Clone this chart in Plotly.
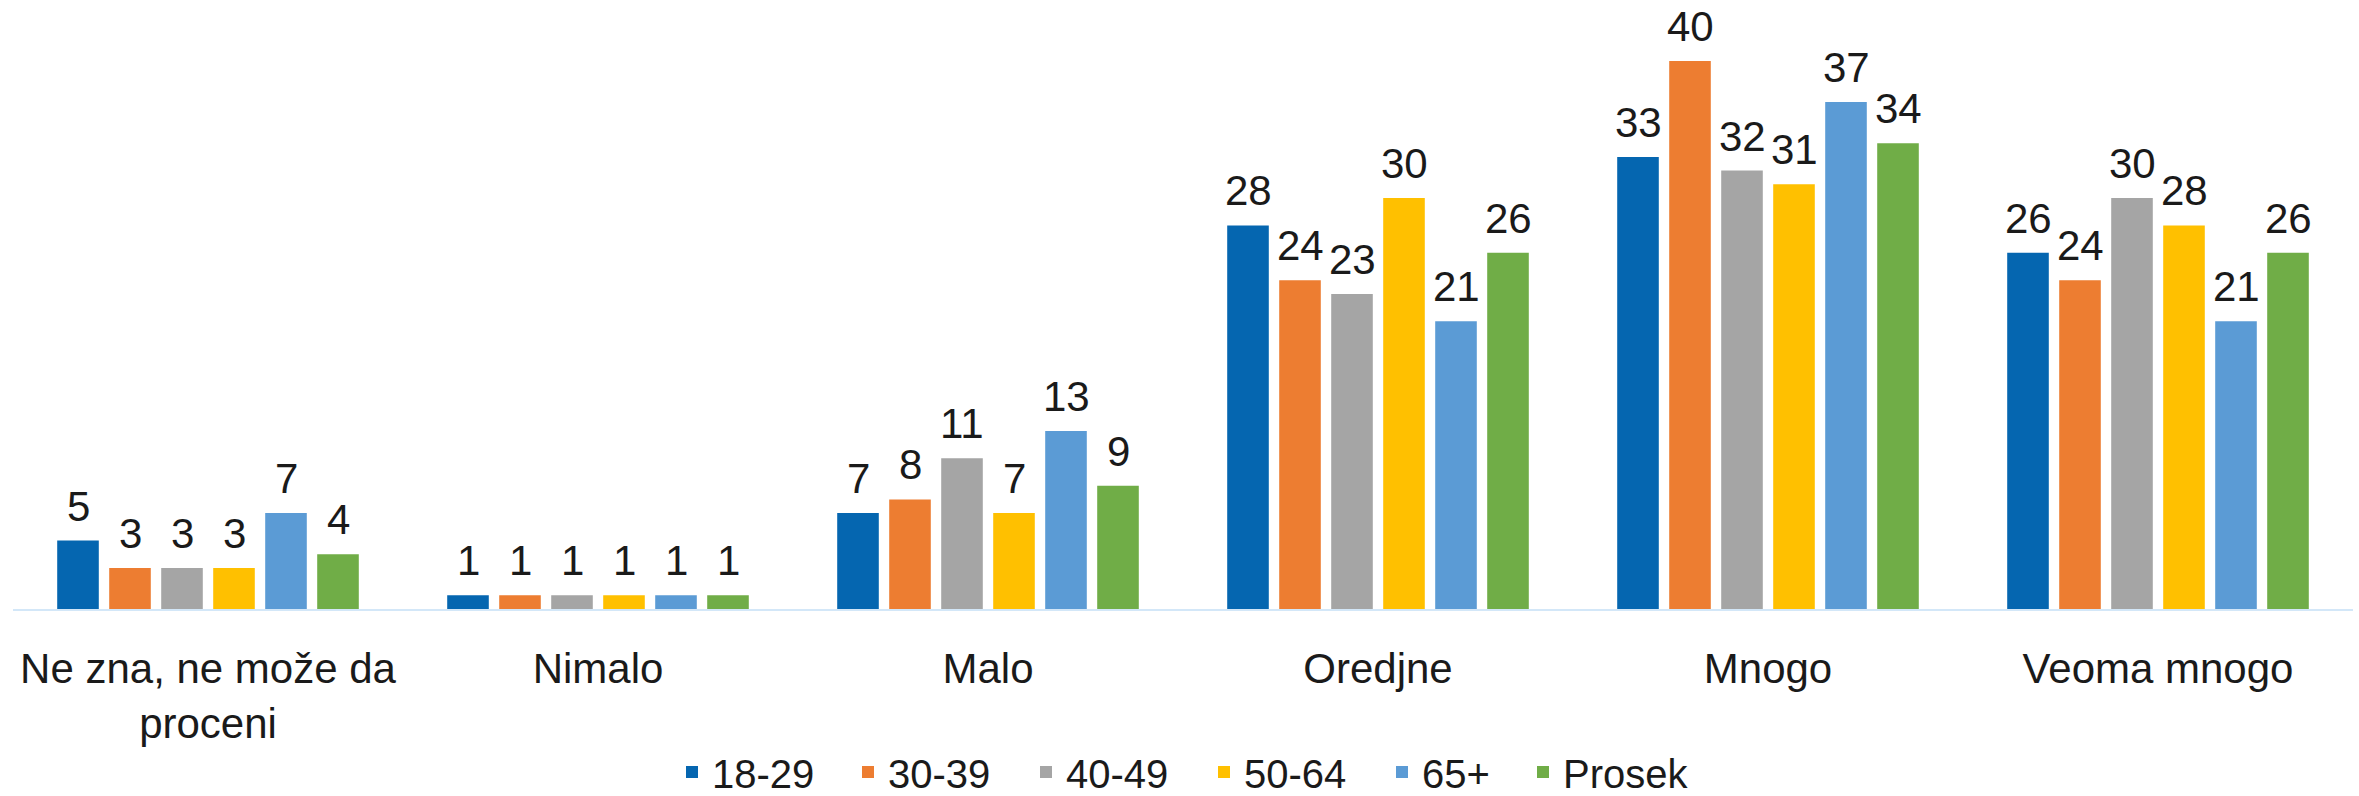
import plotly.graph_objects as go

categories = ["Ne zna, ne može da<br>proceni", "Nimalo", "Malo", "Oredjne", "Mnogo", "Veoma mnogo"]
series_names = ["18-29", "30-39", "40-49", "50-64", "65+", "Prosek"]
v_18_29 = [5, 1, 7, 28, 33, 26]
v_30_39 = [3, 1, 8, 24, 40, 24]
v_40_49 = [3, 1, 11, 23, 32, 30]
v_50_64 = [3, 1, 7, 30, 31, 28]
v_65 = [7, 1, 13, 21, 37, 21]
v_prosek = [4, 1, 9, 26, 34, 26]
colors = ["#0566B0", "#ED7D31", "#A5A5A5", "#FFC000", "#5B9BD5", "#70AD47"]

series_values = [v_18_29, v_30_39, v_40_49, v_50_64, v_65, v_prosek]

W, H = 2359, 796
left, right = 13, W - 2353
top, bottom = 30, H - 609
plot_w = W - left - right
plot_h = H - top - bottom
bargap, bargroupgap = 0.2, 0.2
slot_px = plot_w / len(categories) * (1 - bargap) / len(series_names)

# legend entry left positions (px) in the page
legend_px = [686, 862, 1040, 1218, 1396, 1537]
legend_keys = ["legend", "legend2", "legend3", "legend4", "legend5", "legend6"]

FONT = "Liberation Sans, Arial, sans-serif"
fig = go.Figure()
annotations = []
n = len(series_names)
for i, (name, vals, col, lk) in enumerate(zip(series_names, series_values, colors, legend_keys)):
    fig.add_trace(go.Bar(
        x=categories, y=vals, name=name, legend=lk,
        marker=dict(color=col, line=dict(width=0)),
        hoverinfo="x+y+name",
    ))
    for cat, v in zip(categories, vals):
        annotations.append(dict(
            x=cat, y=v, xref="x", yref="y", text=str(v), showarrow=False,
            xanchor="center", yanchor="bottom",
            xshift=(i - (n - 1) / 2) * slot_px, yshift=9,
            font=dict(family=FONT, size=42, color="#1a1a1a"),
        ))

legend_y = (609 - 772) / plot_h
legends = {}
for lk, px in zip(legend_keys, legend_px):
    legends[lk] = dict(
        orientation="h", x=(px - 14 - left) / plot_w, xanchor="left",
        y=legend_y, yanchor="middle",
        font=dict(size=40, color="#1a1a1a"),
        bgcolor="rgba(0,0,0,0)",
    )

fig.update_layout(
    width=W, height=H,
    margin=dict(l=left, r=right, t=top, b=bottom, autoexpand=False),
    paper_bgcolor="white", plot_bgcolor="white",
    barmode="group", bargap=bargap, bargroupgap=bargroupgap,
    font=dict(family=FONT, color="#1a1a1a"),
    showlegend=True,
    annotations=annotations,
    **legends,
)
fig.update_xaxes(
    showgrid=False, showline=True, linecolor="#D3E7F8", linewidth=2,
    ticks="", tickfont=dict(size=42, color="#1a1a1a"),
    ticklabelstandoff=22,
)
fig.update_yaxes(
    range=[0, (609 - top) / 13.7], showgrid=False, showticklabels=False,
    zeroline=False, showline=False,
)

fig.write_html(
    "out.html",
    config={"displayModeBar": False},
    post_script="document.body.style.margin='0';document.body.style.padding='0';",
)
